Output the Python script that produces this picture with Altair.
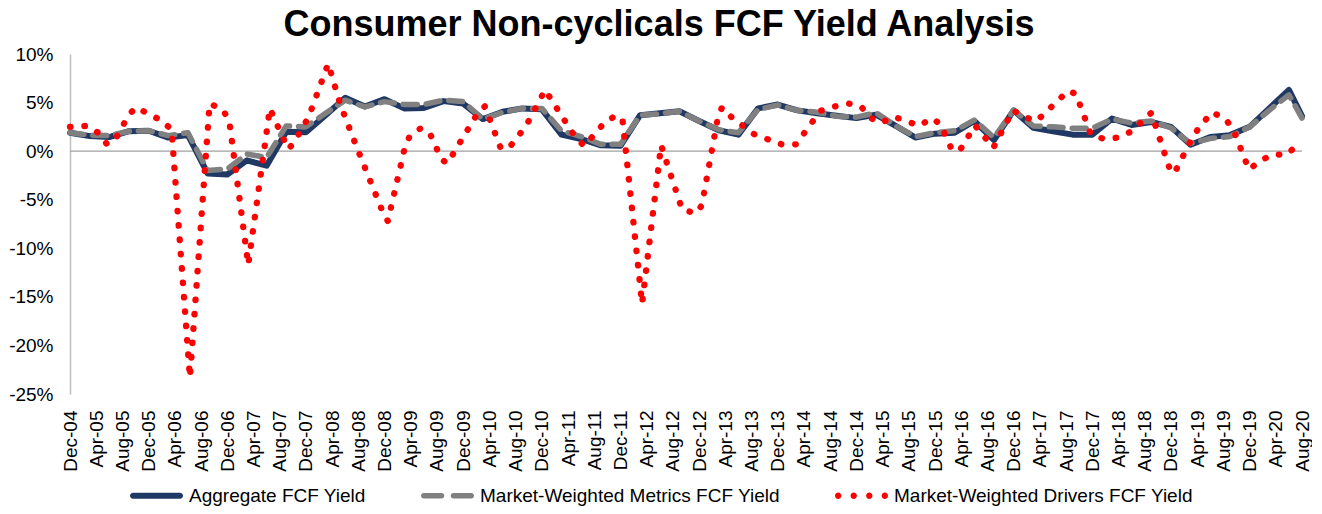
import json
import altair as alt
import pandas as pd

FONT = "Liberation Sans"

# ---- data (x = months after Dec-04) ----
series_names = ["Aggregate FCF Yield",
                "Market-Weighted Metrics FCF Yield",
                "Market-Weighted Drivers FCF Yield"]

# quarter ends Dec-04 ... Jun-20, plus Aug-20
agg_months = list(range(0, 187, 3)) + [188]
agg_values = [1.9, 1.55, 1.45, 2.05, 2.1, 1.4, 1.65, -2.3, -2.4, -0.95,
              -1.5, 2.0, 1.95, 3.7, 5.5, 4.6, 5.35, 4.4, 4.45, 5.15,
              4.9, 3.3, 4.05, 4.4, 4.3, 1.7, 1.25, 0.6, 0.55, 3.7,
              3.9, 4.1, 3.1, 2.15, 1.7, 4.4, 4.8, 4.2, 3.9, 3.65,
              3.4, 3.75, 2.6, 1.4, 1.8, 1.9, 3.1, 1.15, 4.2, 2.4,
              2.05, 1.7, 1.7, 3.35, 2.7, 3.0, 2.5, 0.65, 1.45, 1.65,
              2.5, 4.4, 6.3, 3.6]
metrics_values = [1.9, 1.65, 1.6, 2.05, 2.1, 1.6, 1.9, -2.0, -1.85, -0.3,
                  -0.65, 2.6, 2.5, 3.9, 5.25, 4.55, 5.1, 4.8, 4.8, 5.25,
                  5.1, 3.3, 4.0, 4.4, 4.4, 2.1, 1.5, 0.7, 0.7, 3.7,
                  3.85, 4.1, 3.1, 2.2, 1.9, 4.3, 4.75, 4.2, 4.0, 3.6,
                  3.5, 3.95, 2.6, 1.5, 1.9, 2.1, 3.2, 1.4, 4.2, 2.6,
                  2.5, 2.35, 2.35, 3.3, 2.9, 3.1, 2.4, 0.8, 1.3, 1.5,
                  2.5, 4.2, 5.8, 3.4]

drivers_months = [0, 2.6, 4.3, 5.6, 6.8, 7.9, 8.9, 10.1, 12.1, 14.1,
                  15.5, 18.3, 21.3, 23.3, 24.3, 27.2, 30.5, 31.4, 33.3, 34.2,
                  36.4, 39.4, 41.3, 43.7, 47.8, 48.5, 51.0, 51.8, 53.5, 54.9,
                  56.7, 57.6, 58.8, 62.2, 63.3, 65.7, 66.9, 69.6, 72.5, 77.3,
                  78.5, 81.4, 83.2, 84.3, 87.3, 90.2, 93.4, 95.5, 96.4, 98.9,
                  99.5, 101.0, 104.5, 108.6, 110.8, 114.5, 116.7, 118.8, 120.7, 122.1,
                  123.7, 125.7, 127.6, 129.6, 131.5, 132.8, 134.6, 135.8, 138.1, 140.9,
                  143.9, 145.7, 147.5, 152.3, 153.5, 155.8, 157.8, 160.0, 162.0, 165.0,
                  167.8, 168.5, 171.5, 174.2, 176.2, 177.5, 179.9, 181.6, 183.5, 185.7,
                  188]
drivers_values = [2.5, 2.6, 1.9, 0.75, 1.1, 2.4, 3.7, 4.5, 3.8, 3.1,
                  2.2, -23.3, 4.9, 4.3, 3.1, -11.7, 4.4, 3.0, 0.2, 0.9,
                  3.5, 9.0, 4.7, 0.5, -6.4, -7.2, 0.1, 1.5, 2.35, 1.85,
                  -0.85, -1.25, 0.1, 3.9, 4.6, 0.35, 0.25, 2.6, 6.3, 1.25,
                  0.55, 2.8, 3.65, 3.3, -15.7, 0.6, -6.0, -6.4, -5.6, 3.6,
                  4.5, 3.45, 1.7, 0.7, 0.7, 4.15, 4.6, 4.9, 4.6, 3.45,
                  2.9, 3.55, 3.1, 2.6, 3.4, 2.8, 0.1, 0.1, 2.65, 0.35,
                  4.2, 3.5, 3.1, 6.2, 5.9, 1.7, 1.25, 1.4, 2.05, 3.95,
                  -1.8, -2.3, 1.7, 4.0, 3.4, 2.25, -1.9, -1.0, -0.35, -0.35,
                  1.1]

tick_months = list(range(0, 189, 4))
month_names = ["Dec", "Apr", "Aug"]
tick_labels = [f"{month_names[i % 3]}-{(2004 + (m + 11) // 12) % 100:02d}"
               for i, m in enumerate(tick_months)]
y_ticks = [-25, -20, -15, -10, -5, 0, 5, 10]

# ---- styles ----
colors = ["#1f3864", "#808080", "#ff0000"]


def pill(a, b, r):
    return (f"M{a + r},{-r} L{b - r},{-r} A{r},{r} 0 0 1 {b - r},{r} "
            f"L{a + r},{r} A{r},{r} 0 0 1 {a + r},{-r} Z")


def dot(x, r):
    return f"M{x - r},0 A{r},{r} 0 1 0 {x + r},0 A{r},{r} 0 1 0 {x - r},0 Z"


shapes = [
    pill(-1, 1, 0.113),
    pill(-1, -0.12, 0.104) + " " + pill(0.12, 1, 0.104),
    " ".join(dot(x, 0.12) for x in [-0.88, -0.293, 0.293, 0.88]),
]

W, H = 1232, 340
xscale = alt.Scale(domain=[0, 188], nice=False, zero=False)
yscale = alt.Scale(domain=[-25, 10], nice=False, zero=False)

xaxis = alt.Axis(values=tick_months,
                 labelExpr=f"{json.dumps(tick_labels)}[round(datum.value/4)]",
                 labelAngle=270, labelAlign="right", labelBaseline="middle",
                 labelPadding=16, ticks=False, domain=False, grid=False,
                 labelFont=FONT, labelFontSize=19, labelColor="#000000",
                 labelOverlap=False, labelFlush=False, title=None)
yaxis = alt.Axis(values=y_ticks, labelExpr="datum.value + '%'",
                 ticks=False, domain=True, domainColor="#bfbfbf", domainWidth=1.5,
                 grid=False, labelPadding=17, labelFont=FONT, labelFontSize=19,
                 labelColor="#000000", labelFlush=False, title=None)

agg_df = pd.DataFrame({"month": agg_months, "value": agg_values})
met_df = pd.DataFrame({"month": agg_months, "value": metrics_values})
drv_df = pd.DataFrame({"month": drivers_months, "value": drivers_values})
zero_df = pd.DataFrame({"value": [0]})
legend_df = pd.DataFrame({"series": series_names})

x_enc = alt.X("month:Q", scale=xscale, axis=xaxis)
y_enc = alt.Y("value:Q", scale=yscale, axis=yaxis)

zero = alt.Chart(zero_df).mark_rule(color="#a0a0a0", strokeWidth=1.3).encode(
    y=y_enc)

agg = alt.Chart(agg_df).mark_line(
    color=colors[0], strokeWidth=6, strokeCap="round", strokeJoin="round"
).encode(x=x_enc, y=y_enc)

met = alt.Chart(met_df).mark_line(
    color=colors[1], strokeWidth=5.5, strokeCap="round", strokeJoin="round",
    strokeDash=[14, 9]
).encode(x=x_enc, y=y_enc)

drv = alt.Chart(drv_df).mark_line(
    color=colors[2], strokeWidth=6.3, strokeCap="round", strokeJoin="round",
    strokeDash=[0.5, 13.9]
).encode(x=x_enc, y=y_enc)

leg_props = dict(orient="none", legendX=60, legendY=415, direction="horizontal",
                 columns=3, title=None, symbolSize=2809, symbolStrokeWidth=0,
                 symbolOpacity=1, labelFont=FONT, labelFontSize=19,
                 labelColor="#000000", labelOffset=6, columnPadding=55,
                 labelLimit=500)

legend_layer = alt.Chart(legend_df).mark_point(filled=True, opacity=0, size=10).encode(
    x=alt.value(0), y=alt.value(0),
    color=alt.Color("series:N", scale=alt.Scale(domain=series_names, range=colors),
                    legend=alt.Legend(**leg_props)),
    shape=alt.Shape("series:N", scale=alt.Scale(domain=series_names, range=shapes),
                    legend=alt.Legend(**leg_props)),
)

chart = alt.layer(zero, agg, met, drv, legend_layer).properties(
    width=W, height=H,
    title=alt.Title("Consumer Non-cyclicals FCF Yield Analysis", font=FONT,
                    fontSize=36, fontWeight="bold", color="#000000",
                    anchor="middle", dx=-27, dy=27, offset=0, baseline="alphabetic"),
    padding={"left": 62, "top": 46, "right": 10, "bottom": 112},
    autosize="none",
).configure_view(stroke=None)

chart.save("out.html", embed_options={"renderer": "svg", "actions": False})
